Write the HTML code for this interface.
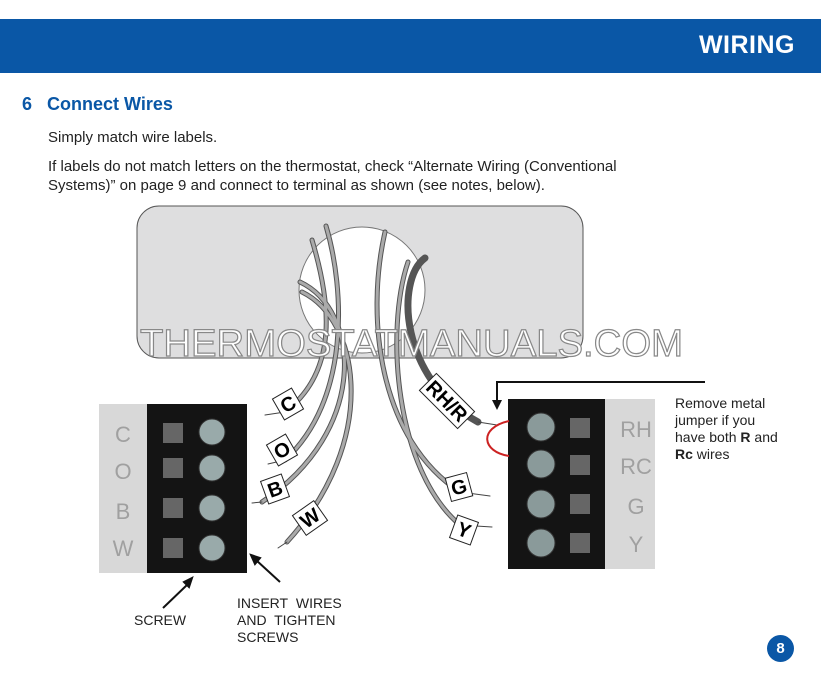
<!DOCTYPE html>
<html><head><meta charset="utf-8"><style>
body{margin:0;width:821px;height:685px;background:#fff;position:relative;overflow:hidden;font-family:"Liberation Sans",Arial,sans-serif;color:#222}
.bar{position:absolute;left:0;top:19px;width:821px;height:54px;background:#0a57a6}
.bar span{position:absolute;right:26px;top:12px;color:#fff;font-weight:bold;font-size:25px;letter-spacing:0.5px}
.t{position:absolute;font-size:15px;line-height:19px}
</style></head><body>
<div class="bar"><span>WIRING</span></div>
<div class="t" style="left:22px;top:95px;font-size:18px;font-weight:bold;color:#0a57a6">6&nbsp;&nbsp; Connect Wires</div>
<div class="t" style="left:48px;top:128px">Simply match wire labels.</div>
<div class="t" style="left:48px;top:157px">If labels do not match letters on the thermostat, check “Alternate Wiring (Conventional<br>Systems)” on page 9 and connect to terminal as shown (see notes, below).</div>
<svg width="821" height="685" style="position:absolute;left:0;top:0">
<rect x="137" y="206" width="446" height="152" rx="22" fill="#dededf" stroke="#555" stroke-width="1"/>
<circle cx="362" cy="290" r="63" fill="#fff" stroke="#777" stroke-width="1"/>
<g fill="none" stroke-linecap="round">
<g stroke="#555" stroke-width="5">
<path d="M312 240 C330 300 340 370 285 412"/>
<path d="M326 226 C345 290 350 400 285 460"/>
<path d="M300 282 C360 310 370 430 262 502"/>
<path d="M302 292 C360 320 380 440 287 542"/>
<path d="M385 232 C365 320 380 440 460 492"/>
<path d="M408 262 C385 330 395 470 460 525"/>
<path d="M425 258 C395 280 400 380 478 422" stroke-width="7"/>
</g>
<g stroke="#aaa" stroke-width="3">
<path d="M312 240 C330 300 340 370 285 412"/>
<path d="M326 226 C345 290 350 400 285 460"/>
<path d="M300 282 C360 310 370 430 262 502"/>
<path d="M302 292 C360 320 380 440 287 542"/>
<path d="M385 232 C365 320 380 440 460 492"/>
<path d="M408 262 C385 330 395 470 460 525"/>
</g>
<g stroke="#444" stroke-width="1">
<path d="M285 412 L265 415"/><path d="M285 460 L268 464"/><path d="M262 502 L252 503"/><path d="M287 542 L278 548"/>
<path d="M478 422 L497 425"/><path d="M460 492 L490 496"/><path d="M460 525 L492 527"/>
</g>
</g>
<text x="140" y="356" textLength="543" lengthAdjust="spacingAndGlyphs" font-size="38" font-family="Liberation Sans" fill="#fff" stroke="#888" stroke-width="1.2">THERMOSTATMANUALS.COM</text>
<g font-family="Liberation Sans" font-weight="bold" font-size="20" text-anchor="middle">
<g transform="translate(288,404) rotate(-30)"><rect x="-11" y="-12" width="22" height="24" fill="#fff" stroke="#222"/><text y="7">C</text></g>
<g transform="translate(282,450) rotate(-30)"><rect x="-11" y="-12" width="22" height="24" fill="#fff" stroke="#222"/><text y="7">O</text></g>
<g transform="translate(275,489) rotate(-20)"><rect x="-11" y="-12" width="22" height="24" fill="#fff" stroke="#222"/><text y="7">B</text></g>
<g transform="translate(310,518) rotate(-35)"><rect x="-13" y="-12" width="26" height="24" fill="#fff" stroke="#222"/><text y="7">W</text></g>
<g transform="translate(447,401) rotate(45)"><rect x="-27" y="-12" width="54" height="24" fill="#fff" stroke="#222"/><text y="7">RH/R</text></g>
<g transform="translate(459,487) rotate(-15)"><rect x="-11" y="-12" width="22" height="24" fill="#fff" stroke="#222"/><text y="7">G</text></g>
<g transform="translate(464,530) rotate(20)"><rect x="-11" y="-12" width="22" height="24" fill="#fff" stroke="#222"/><text y="7">Y</text></g>
</g>
<!-- left terminal -->
<rect x="99" y="404" width="50" height="169" fill="#d8d8d8"/>
<rect x="147" y="404" width="100" height="169" fill="#141414"/>
<!-- right terminal -->
<rect x="605" y="399" width="50" height="170" fill="#d8d8d8"/>
<rect x="508" y="399" width="97" height="170" fill="#141414"/>
<g font-family="Liberation Sans" font-size="22" fill="#a0a0a0" text-anchor="middle">
<text x="123" y="442">C</text><text x="123" y="479">O</text><text x="123" y="519">B</text><text x="123" y="556">W</text>
<text x="636" y="437">RH</text><text x="636" y="474">RC</text><text x="636" y="514">G</text><text x="636" y="552">Y</text>
</g>
<g fill="#666"><rect x="163" y="423" width="20" height="20"/><rect x="163" y="458" width="20" height="20"/><rect x="163" y="498" width="20" height="20"/><rect x="163" y="538" width="20" height="20"/></g>
<g fill="#9aa" stroke="#333"><circle cx="212" cy="432" r="13"/><circle cx="212" cy="468" r="13"/><circle cx="212" cy="508" r="13"/><circle cx="212" cy="548" r="13"/></g>
<g fill="#666"><rect x="570" y="418" width="20" height="20"/><rect x="570" y="455" width="20" height="20"/><rect x="570" y="494" width="20" height="20"/><rect x="570" y="533" width="20" height="20"/></g>
<g fill="#8a9a9a" stroke="#333"><circle cx="541" cy="427" r="14"/><circle cx="541" cy="464" r="14"/><circle cx="541" cy="504" r="14"/><circle cx="541" cy="543" r="14"/></g>
<path d="M509 421 C478 428 482 452 509 456" fill="none" stroke="#c22" stroke-width="2"/>
<!-- arrows -->
<g stroke="#111" stroke-width="2" fill="#111">
<path d="M705 382 L497 382 L497 402" fill="none"/><path d="M492 400 L502 400 L497 410Z" stroke="none"/>
<path d="M163 608 L188 584" fill="none"/><path d="M192 578 L184 582 L189 587Z"/>
<path d="M280 582 L256 560" fill="none"/><path d="M251 555 L260 558 L255 564Z"/>
</g>
</svg>
<div class="t" style="left:675px;top:395px;font-size:14px;line-height:17px">Remove metal<br>jumper if you<br>have both <b>R</b> and<br><b>Rc</b> wires</div>
<div class="t" style="left:134px;top:611px;font-size:14px">SCREW</div>
<div class="t" style="left:237px;top:595px;font-size:14px;line-height:17px">INSERT&nbsp; WIRES<br>AND&nbsp; TIGHTEN<br>SCREWS</div>
<div style="position:absolute;left:767px;top:635px;width:27px;height:27px;border-radius:50%;background:#0a57a6;color:#fff;font-weight:bold;font-size:15px;text-align:center;line-height:27px">8</div>
</body></html>
